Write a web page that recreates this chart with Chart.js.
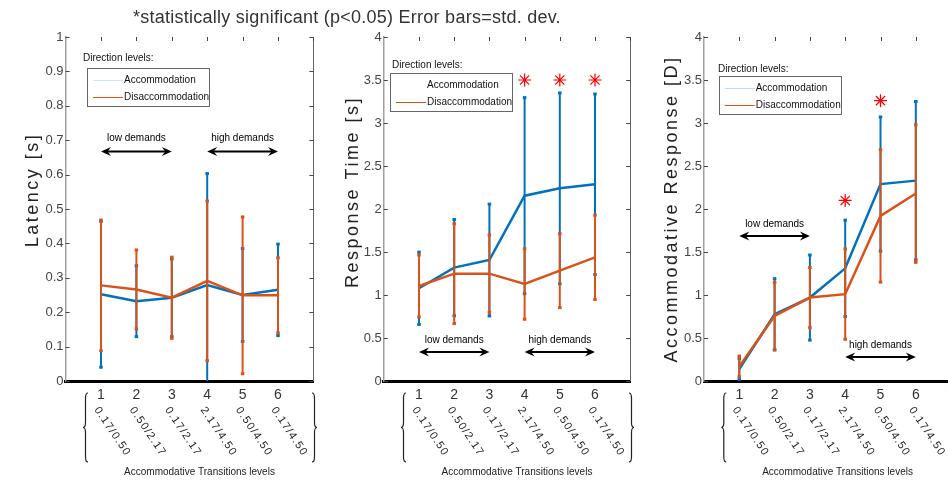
<!DOCTYPE html>
<html>
<head>
<meta charset="utf-8">
<script src="https://cdn.jsdelivr.net/npm/chart.js@4.4.0/dist/chart.umd.min.js"></script>
<style>
  html, body { margin: 0; padding: 0; background: #fff; overflow: hidden; }
  body { width: 948px; height: 481px; position: relative; font-family: "Liberation Sans", Arial, sans-serif; }
  canvas { position: absolute; top: 0; }
  #title { position: absolute; left: 133px; top: 6px; font-size: 18px; letter-spacing: 0.25px; line-height: 22px; color: #333; white-space: nowrap; z-index: 2; }
</style>
</head>
<body>
<div id="title">*statistically significant (p&lt;0.05) Error bars=std. dev.</div>
<canvas id="c1" width="320" height="481" style="left:0px"></canvas>
<canvas id="c2" width="320" height="481" style="left:320px"></canvas>
<canvas id="c3" width="360" height="481" style="left:640px"></canvas>
<script>
const levels = [1, 2, 3, 4, 5, 6];
const levelPairs = ['0.17/0.50', '0.50/2.17', '0.17/2.17', '2.17/4.50', '0.50/4.50', '0.17/4.50'];

// latency [s]
const latencyAcc = [0.252, 0.232, 0.242, 0.279, 0.250, 0.265];
const latencyAccSd = [0.212, 0.103, 0.113, 0.324, 0.135, 0.133];
const latencyDis = [0.278, 0.266, 0.242, 0.291, 0.249, 0.249];
const latencyDisSd = [0.19, 0.115, 0.118, 0.232, 0.228, 0.109];

// response time [s]
const respTimeAcc = [1.078, 1.318, 1.407, 2.155, 2.24, 2.287];
const respTimeAccSd = [0.42, 0.56, 0.65, 1.14, 1.11, 1.05];
const respTimeDis = [1.105, 1.248, 1.248, 1.128, 1.283, 1.438];
const respTimeDisSd = [0.36, 0.58, 0.45, 0.41, 0.43, 0.49];
const respTimeStarX = [4, 5, 6];
const respTimeStarY = [3.5, 3.5, 3.5];

// accommodative response [D]
const accRespAcc = [0.14, 0.775, 0.97, 1.31, 2.29, 2.33];
const accRespAccSd = [0.12, 0.415, 0.495, 0.56, 0.78, 0.92];
const accRespDis = [0.17, 0.756, 0.97, 1.01, 1.92, 2.18];
const accRespDisSd = [0.12, 0.39, 0.35, 0.525, 0.77, 0.8];
const accRespStarX = [4, 5];
const accRespStarY = [2.10, 3.26];

const BLUE = '#0072BD';
const ORANGE = '#D95319';
const FONT = '"Liberation Sans", Arial, sans-serif';

function pts(xs, ys) {
  return xs.map((x, i) => ({ x: x, y: ys[i] }));
}

// vertical std. dev. bars, drawn just under each series line
const errorBars = {
  id: 'errorBars',
  beforeDatasetDraw(chart, args) {
    const ds = chart.data.datasets[args.index];
    if (!ds.sd) return;
    const { ctx, chartArea: a, scales: { x, y } } = chart;
    ctx.save();
    ctx.beginPath();
    ctx.rect(a.left - 5, a.top - 5, a.right - a.left + 10, a.bottom - a.top + 5);
    ctx.clip();
    ctx.strokeStyle = ds.borderColor;
    ctx.fillStyle = ds.borderColor;
    ctx.lineWidth = 2;
    ds.data.forEach((p, i) => {
      const px = x.getPixelForValue(p.x);
      const lo = y.getPixelForValue(p.y - ds.sd[i]);
      const hi = y.getPixelForValue(p.y + ds.sd[i]);
      ctx.beginPath();
      ctx.moveTo(px, lo);
      ctx.lineTo(px, hi);
      ctx.stroke();
      ctx.fillRect(px - 1.75, lo - 1.5, 3.5, 3);
      ctx.fillRect(px - 1.75, hi - 1.5, 3.5, 3);
    });
    ctx.restore();
  }
};

function brace(ctx, tipX, top, bottom, dir) {
  const w = 5 * dir, mid = (top + bottom) / 2, s = tipX + w / 2;
  ctx.beginPath();
  ctx.moveTo(tipX + w, top);
  ctx.quadraticCurveTo(s, top, s, top + 5);
  ctx.lineTo(s, mid - 5);
  ctx.quadraticCurveTo(s, mid, tipX, mid);
  ctx.quadraticCurveTo(s, mid, s, mid + 5);
  ctx.lineTo(s, bottom - 5);
  ctx.quadraticCurveTo(s, bottom, tipX + w, bottom);
  ctx.stroke();
}

function arrow(ctx, x1, x2, y) {
  ctx.lineWidth = 2;
  ctx.beginPath();
  ctx.moveTo(x1 + 5, y);
  ctx.lineTo(x2 - 5, y);
  ctx.stroke();
  [[x1, 1], [x2, -1]].forEach(([tx, d]) => {
    ctx.beginPath();
    ctx.moveTo(tx, y);
    ctx.lineTo(tx + 10 * d, y - 4.5);
    ctx.lineTo(tx + 6.5 * d, y);
    ctx.lineTo(tx + 10 * d, y + 4.5);
    ctx.closePath();
    ctx.fill();
  });
}

const decorations = {
  id: 'decorations',
  afterDraw(chart, args, o) {
    const { ctx, chartArea: a, scales: { x, y } } = chart;
    ctx.save();

    // box: right axis and inward ticks
    ctx.strokeStyle = '#666';
    ctx.lineWidth = 1;
    ctx.beginPath();
    ctx.moveTo(Math.round(a.right) + 0.5, a.top);
    ctx.lineTo(Math.round(a.right) + 0.5, a.bottom);
    ctx.stroke();
    ctx.strokeStyle = '#444';
    y.ticks.forEach(t => {
      const py = Math.round(y.getPixelForValue(t.value)) + 0.5;
      ctx.beginPath();
      ctx.moveTo(a.left, py); ctx.lineTo(a.left + 4, py);
      ctx.moveTo(a.right, py); ctx.lineTo(a.right - 4, py);
      ctx.stroke();
    });
    x.ticks.forEach(t => {
      if (t.value < 1) return;
      const px = Math.round(x.getPixelForValue(t.value)) + 0.5;
      ctx.beginPath();
      ctx.moveTo(px, a.top); ctx.lineTo(px, a.top + 4);
      ctx.stroke();
    });

    // y title
    ctx.save();
    ctx.translate(o.yTitleX, o.yTitleY);
    ctx.rotate(-Math.PI / 2);
    ctx.letterSpacing = '2.5px';
    ctx.font = '18px ' + FONT;
    ctx.fillStyle = '#222';
    ctx.textAlign = 'center';
    ctx.textBaseline = 'middle';
    ctx.fillText(o.yTitle, 0, 0);
    ctx.restore();

    // rotated level pairs, braces, x title
    ctx.fillStyle = '#222';
    ctx.font = '11px ' + FONT;
    levels.forEach((lv, i) => {
      const px = x.getPixelForValue(lv);
      ctx.save();
      ctx.translate(px, 405);
      ctx.rotate(56 * Math.PI / 180);
      ctx.letterSpacing = '1.2px';
      ctx.textAlign = 'left';
      ctx.textBaseline = 'top';
      ctx.fillText(levelPairs[i], 0, 0);
      ctx.restore();
    });
    ctx.strokeStyle = '#222';
    ctx.lineWidth = 1.2;
    brace(ctx, x.getPixelForValue(1) - 18, 393, 462, 1);
    brace(ctx, x.getPixelForValue(6) + 39, 393, 462, -1);
    ctx.font = '10px ' + FONT;
    ctx.textAlign = 'center';
    ctx.textBaseline = 'middle';
    ctx.fillText('Accommodative Transitions levels', x.getPixelForValue(3.5) + 10, 472);

    // demand arrows
    ctx.fillStyle = '#000';
    ctx.strokeStyle = '#000';
    o.demands.forEach(d => {
      const p1 = x.getPixelForValue(d.x1), p2 = x.getPixelForValue(d.x2);
      arrow(ctx, p1, p2, y.getPixelForValue(d.y));
      ctx.font = '10px ' + FONT;
      ctx.textAlign = 'center';
      ctx.textBaseline = 'middle';
      ctx.fillText(d.text, (p1 + p2) / 2, y.getPixelForValue(d.ty));
    });

    // legend
    const L = o.legend;
    ctx.font = '10px ' + FONT;
    ctx.textAlign = 'left';
    ctx.textBaseline = 'middle';
    ctx.fillStyle = '#111';
    ctx.fillText('Direction levels:', L.tx, L.ty);
    ctx.fillStyle = '#fff';
    ctx.fillRect(L.bx, L.by, 122, 38);
    ctx.strokeStyle = '#666';
    ctx.lineWidth = 1;
    ctx.strokeRect(Math.round(L.bx) + 0.5, Math.round(L.by) + 0.5, 122, 38);
    [[L.accLine, 'Accommodation', 12], [ORANGE, 'Disaccommodation', 29]].forEach(([c, t, dy]) => {
      ctx.strokeStyle = c;
      ctx.beginPath();
      ctx.moveTo(L.bx + 6, L.by + dy + 0.5);
      ctx.lineTo(L.bx + 36, L.by + dy + 0.5);
      ctx.stroke();
      ctx.fillStyle = '#111';
      ctx.fillText(t, L.bx + 37, L.by + dy);
    });

    ctx.restore();
  }
};

function makePanel(id, cfg) {
  const datasets = [
    { label: 'Disaccommodation', data: pts(levels, cfg.dis), sd: cfg.disSd, borderColor: ORANGE, borderWidth: 2.5, pointRadius: 0, tension: 0 },
    { label: 'Accommodation', data: pts(levels, cfg.acc), sd: cfg.accSd, borderColor: BLUE, borderWidth: 2.5, pointRadius: 0, tension: 0 }
  ];
  if (cfg.starX) {
    datasets.unshift({
      label: 'significant', data: pts(cfg.starX, cfg.starY), showLine: false,
      pointStyle: 'star', pointRadius: 6.5, borderColor: '#ff0000', pointBorderWidth: 1.2, backgroundColor: '#ff0000'
    });
  }
  return new Chart(document.getElementById(id), {
    type: 'line',
    data: { datasets: datasets },
    options: {
      responsive: false,
      animation: false,
      devicePixelRatio: 1,
      layout: { padding: { top: 37, right: cfg.padRight, left: 0, bottom: 0 } },
      plugins: {
        legend: { display: false },
        tooltip: { enabled: false },
        decorations: {
          yTitle: cfg.yTitle, yTitleX: cfg.yTitleX, yTitleY: cfg.yTitleY,
          legend: cfg.legend, demands: cfg.demands
        }
      },
      scales: {
        x: {
          type: 'linear', min: 0, max: cfg.xMax,
          grid: { display: false, drawTicks: false },
          border: { color: '#000', width: 3 },
          ticks: {
            stepSize: 1, padding: 6, color: '#333', autoSkip: false, maxRotation: 0,
            font: { size: 14, family: FONT },
            callback: v => (v >= 1 && v <= cfg.lastLabel) ? String(v) : ''
          },
          afterFit: s => { s.height = 100; s.paddingLeft = 0; s.paddingRight = 0; }
        },
        y: {
          min: 0, max: cfg.yMax,
          grid: { display: false, drawTicks: false },
          border: { color: '#a0a0a0', width: 1.5 },
          ticks: {
            stepSize: cfg.yStep, padding: 2, color: '#444', font: { size: 13, family: FONT },
            callback: v => String(Math.round(v * 100) / 100)
          },
          afterFit: s => { s.width = cfg.yWidth; s.paddingTop = 0; s.paddingBottom = 0; }
        }
      }
    },
    plugins: [errorBars, decorations]
  });
}

makePanel('c1', {
  acc: latencyAcc, accSd: latencyAccSd, dis: latencyDis, disSd: latencyDisSd,
  yMax: 1, yStep: 0.1, xMax: 7, lastLabel: 6, yWidth: 65.6, padRight: 6.6,
  yTitle: 'Latency [s]', yTitleX: 33, yTitleY: 190,
  legend: { tx: 83, ty: 58, bx: 87, by: 68, accLine: '#d0e4f2' },
  demands: [
    { x1: 1, x2: 3, y: 0.667, ty: 0.705, text: 'low demands' },
    { x1: 4, x2: 6, y: 0.667, ty: 0.705, text: 'high demands' }
  ]
});

makePanel('c2', {
  acc: respTimeAcc, accSd: respTimeAccSd, dis: respTimeDis, disSd: respTimeDisSd,
  starX: respTimeStarX, starY: respTimeStarY,
  yMax: 4, yStep: 0.5, xMax: 7, lastLabel: 6, yWidth: 63.8, padRight: 9.8,
  yTitle: 'Response Time [s]', yTitleX: 33, yTitleY: 192,
  legend: { tx: 72, ty: 65.7, bx: 70, by: 73, accLine: '#ffffff' },
  demands: [
    { x1: 1, x2: 3, y: 0.337, ty: 0.477, text: 'low demands' },
    { x1: 4, x2: 6, y: 0.337, ty: 0.477, text: 'high demands' }
  ]
});

makePanel('c3', {
  acc: accRespAcc, accSd: accRespAccSd, dis: accRespDis, disSd: accRespDisSd,
  starX: accRespStarX, starY: accRespStarY,
  yMax: 4, yStep: 0.5, xMax: 8, lastLabel: 7, yWidth: 64, padRight: 13.6,
  yTitle: 'Accommodative Response [D]', yTitleX: 32, yTitleY: 209,
  legend: { tx: 78, ty: 69, bx: 78.7, by: 76, accLine: '#b9dcf0' },
  demands: [
    { x1: 1, x2: 3, y: 1.686, ty: 1.826, text: 'low demands' },
    { x1: 4, x2: 6, y: 0.28, ty: 0.42, text: 'high demands' }
  ]
});
</script>
</body>
</html>
